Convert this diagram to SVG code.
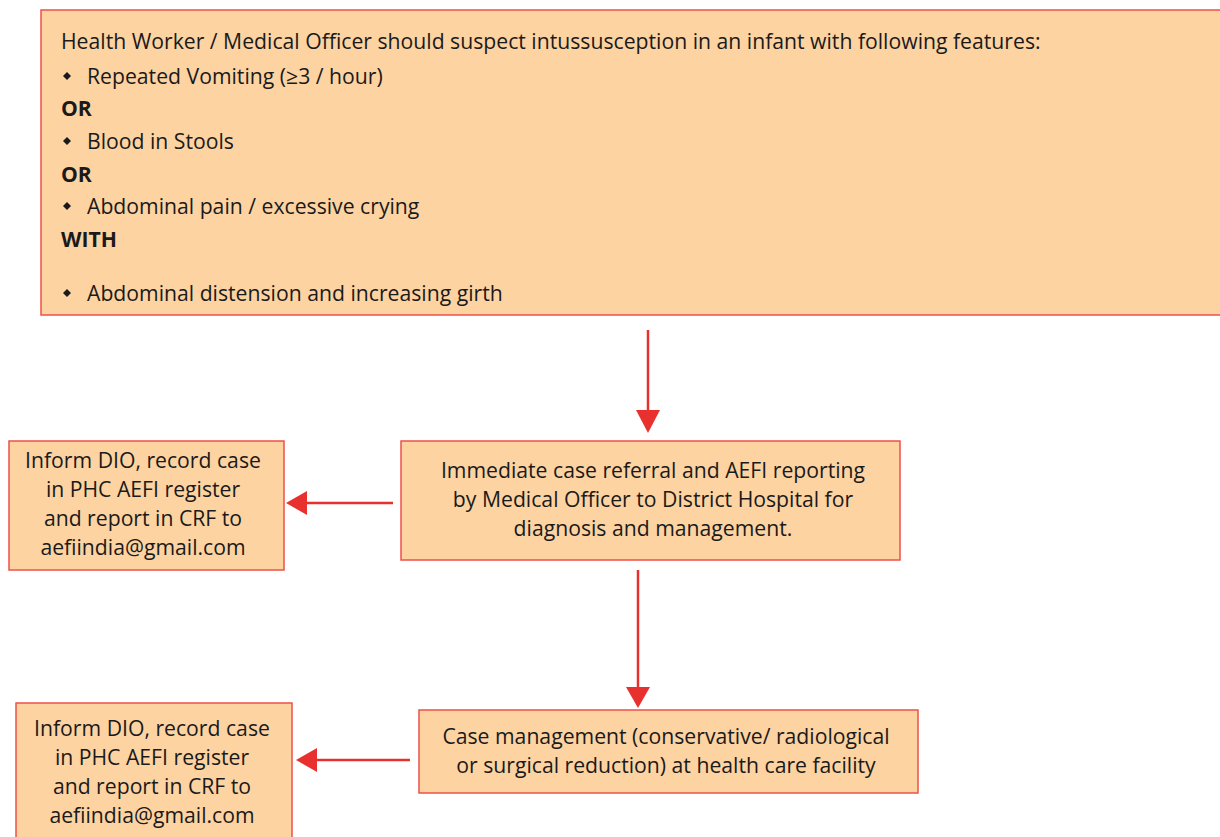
<svg xmlns="http://www.w3.org/2000/svg" width="1220" height="837" viewBox="0 0 1220 837">
<defs>
<style>
.box{fill:#FDD3A2;stroke:#EE5148;stroke-width:1.5}
text{font-family:"Open Sans","Noto Sans","Liberation Sans",sans-serif;font-size:21.2px;fill:#1a1a1a}
.c{text-anchor:middle}
.b{font-weight:bold}
.ln{stroke:#E8312F;stroke-width:2.5;fill:none}
.hd{fill:#E8312F}
.bul{fill:#1a1a1a}
</style>
</defs>
<rect width="1220" height="837" fill="#fff"/>
<g id="node-criteria">
<rect class="box" x="41" y="10" width="1190" height="305"/>
<text x="61" y="49">Health Worker / Medical Officer should suspect intussusception in an infant with following features:</text>
<path class="bul" d="M67,72 l4,4 l-4,4 l-4,-4z"/>
<text x="87" y="84">Repeated Vomiting (≥3 / hour)</text>
<text class="b" x="61" y="116">OR</text>
<path class="bul" d="M67,137 l4,4 l-4,4 l-4,-4z"/>
<text x="87" y="149">Blood in Stools</text>
<text class="b" x="61" y="182">OR</text>
<path class="bul" d="M67,202 l4,4 l-4,4 l-4,-4z"/>
<text x="87" y="214">Abdominal pain / excessive crying</text>
<text class="b" x="61" y="247">WITH</text>
<path class="bul" d="M67,289 l4,4 l-4,4 l-4,-4z"/>
<text x="87" y="301">Abdominal distension and increasing girth</text>
</g>
<g id="node-referral">
<rect class="box" x="401" y="441" width="499" height="119"/>
<text class="c" x="653" y="478">Immediate case referral and AEFI reporting</text>
<text class="c" x="653" y="507">by Medical Officer to District Hospital for</text>
<text class="c" x="653" y="536">diagnosis and management.</text>
</g>
<g id="node-inform1">
<rect class="box" x="9" y="441" width="275" height="129"/>
<text class="c" x="143" y="468">Inform DIO, record case</text>
<text class="c" x="143" y="497">in PHC AEFI register</text>
<text class="c" x="143" y="526">and report in CRF to</text>
<text class="c" x="143" y="555">aefiindia@gmail.com</text>
</g>
<g id="node-management">
<rect class="box" x="419" y="710" width="499" height="83"/>
<text class="c" x="666" y="744">Case management (conservative/ radiological</text>
<text class="c" x="666" y="773">or surgical reduction) at health care facility</text>
</g>
<g id="node-inform2">
<rect class="box" x="16" y="703" width="276" height="140"/>
<text class="c" x="152" y="736">Inform DIO, record case</text>
<text class="c" x="152" y="765">in PHC AEFI register</text>
<text class="c" x="152" y="794">and report in CRF to</text>
<text class="c" x="152" y="823">aefiindia@gmail.com</text>
</g>
<g id="connectors">
<line class="ln" x1="648" y1="330" x2="648" y2="412"/>
<path class="hd" d="M636,410 L660,410 L648,433 Z"/>
<line class="ln" x1="393" y1="503" x2="305" y2="503"/>
<path class="hd" d="M307,491 L307,515 L286,503 Z"/>
<line class="ln" x1="638" y1="570" x2="638" y2="689"/>
<path class="hd" d="M626,687 L650,687 L638,708 Z"/>
<line class="ln" x1="410" y1="760" x2="315" y2="760"/>
<path class="hd" d="M317,748 L317,772 L296,760 Z"/>
</g>
</svg>
